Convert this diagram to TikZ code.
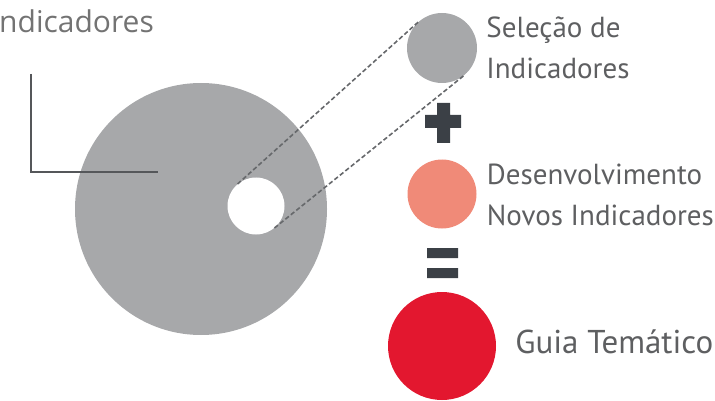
\documentclass[tikz,border=0pt]{standalone}
\usepackage{fontspec}
\setmainfont{PT Sans}
\newfontfamily\headfont{Open Sans}
\usetikzlibrary{positioning}

\definecolor{diskgray}{HTML}{A7A8AA}
\definecolor{salmon}{HTML}{F08A78}
\definecolor{guiared}{HTML}{E3172F}
\definecolor{ink}{HTML}{3B4046}
\definecolor{textgray}{HTML}{5E5F61}
\definecolor{linegray}{HTML}{55575A}

\begin{document}
\begin{tikzpicture}[x = 1pt, y = -1pt,
    disk/.style = { circle, inner sep = 0pt, minimum size = #1 },
    tag/.style = { align = left, inner sep = 0pt, text = textgray,
      font = \fontsize{29}{40.5}\selectfont },
    link/.style = { draw = linegray!90, line width = 1.6pt, dash pattern = on 4.5pt off 2.5pt }]
  \path[use as bounding box] (0,0) rectangle (715,401);

  % big set with the hole that is taken out of it
  \node (pool) [disk = 252pt, fill = diskgray] at (201,209) {};
  \node (hole) [disk = 57pt, fill = white] at (256,206) {};
  \node (title) [anchor = base west, inner sep = 0pt, text = black!55,
    font = \headfont\fontsize{30}{36}\selectfont] at (-1,33) {ndicadores};
  \coordinate (lTop) at (31,74);
  \coordinate (lEnd) at (158,172);
  \draw[linegray, line width = 1.8pt] (lTop) |- (lEnd);

  % right column
  \node (sel) [disk = 70pt, fill = diskgray] at (442,48) {};
  \node (dev) [disk = 69pt, fill = salmon] at (442,194) {};
  \node (guia) [disk = 108pt, fill = guiared] at (442,346) {};
  \node (selText) [tag, right = 9pt of sel] {Seleção de\\Indicadores};
  \node (devText) [tag, right = 10pt of dev, yshift = -1pt] {Desenvolvimento\\Novos Indicadores};
  \node (guiaText) [tag, font = \fontsize{33}{40}\selectfont, right = 19pt of guia, yshift = 4pt] {Guia Temático};

  \draw[link] (hole.130) -- (sel.130);
  \draw[link] (hole.-50) -- (sel.-50);

  % operators
  \fill[ink] (425,115) rectangle (461,128) (437,103) rectangle (450,143);
  \fill[ink] (427,248) rectangle (458,258) (427,268) rectangle (458,278);
\end{tikzpicture}
\end{document}
